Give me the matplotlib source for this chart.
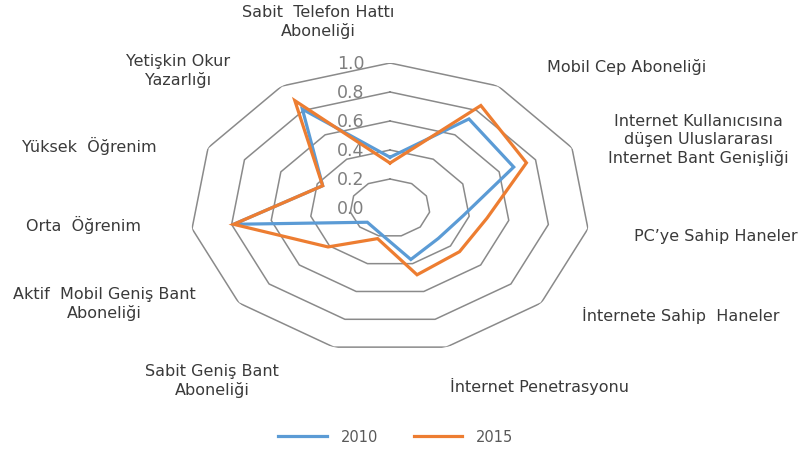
import numpy as np
import matplotlib.pyplot as plt

plt.rcParams['font.family'] = ['DejaVu Sans']

# indicators, clockwise from the top
categories = [
    "Sabit  Telefon Hattı\nAboneliği",
    "Mobil Cep Aboneliği",
    "Internet Kullanıcısına\ndüşen Uluslararası\nInternet Bant Genişliği",
    "PC’ye Sahip Haneler",
    "İnternete Sahip  Haneler",
    "İnternet Penetrasyonu",
    "Sabit Geniş Bant\nAboneliği",
    "Aktif  Mobil Geniş Bant\nAboneliği",
    "Orta  Öğrenim",
    "Yüksek  Öğrenim",
    "Yetişkin Okur\nYazarlığı",
]
values_2010 = [0.35, 0.73, 0.68, 0.37, 0.32, 0.37, 0.18, 0.15, 0.79, 0.37, 0.81]
values_2015 = [0.31, 0.84, 0.75, 0.49, 0.46, 0.48, 0.22, 0.41, 0.79, 0.37, 0.88]
years = ["2010", "2015"]
ring_values = [0.0, 0.2, 0.4, 0.6, 0.8, 1.0]
ring_labels = ["0.0", "0.2", "0.4", "0.6", "0.8", "1.0"]

# where each category label sits (pixel centre, measured from top-left)
label_xy = [(318, 22), (627, 67), (698, 140), (716, 237), (681, 315),
            (540, 386), (212, 381), (104, 304), (83, 225), (89, 146), (178, 71)]

W, H = 808, 449
colors = ['#5B9BD5', '#ED7D31']

fig = plt.figure(figsize=(W / 100, H / 100), dpi=100)
ax = fig.add_axes([190 / W, 96 / H, 400 / W, 290 / H], projection='polar')
ax.set_aspect('auto')
ax.set_theta_zero_location('N')
ax.set_theta_direction(-1)
ax.set_ylim(0, 1)
ax.axis('off')

n = len(categories)
angles = np.linspace(0, 2 * np.pi, n, endpoint=False)
closed = np.append(angles, angles[0])

# polygon grid
for r in ring_values[1:]:
    ax.plot(closed, [r] * (n + 1), color='#8a8a8a', lw=1.1, zorder=1)

for r, lab in zip(ring_values, ring_labels):
    ax.annotate(lab, xy=(0, r), xytext=(-39, -1), textcoords='offset pixels',
                ha='center', va='center', color='#7f7f7f', fontsize=12.5)

handles = []
for vals, c in zip([values_2010, values_2015], colors):
    line, = ax.plot(closed, vals + vals[:1], color=c, lw=2.3, zorder=3,
                    solid_joinstyle='miter')
    handles.append(line)

for lab, (px, py) in zip(categories, label_xy):
    fig.text(px / W, 1 - py / H, lab, ha='center', va='center',
             fontsize=11.5, color='#3a3a3a', linespacing=1.2)

fig.legend(handles, years, loc='center', bbox_to_anchor=(396 / W, 1 - 437 / H),
           ncol=2, frameon=False, fontsize=10.5, labelcolor='#595959',
           handlelength=3.3, columnspacing=2.4, handletextpad=1.0)

fig.savefig('out.png', dpi=100, facecolor='white')
